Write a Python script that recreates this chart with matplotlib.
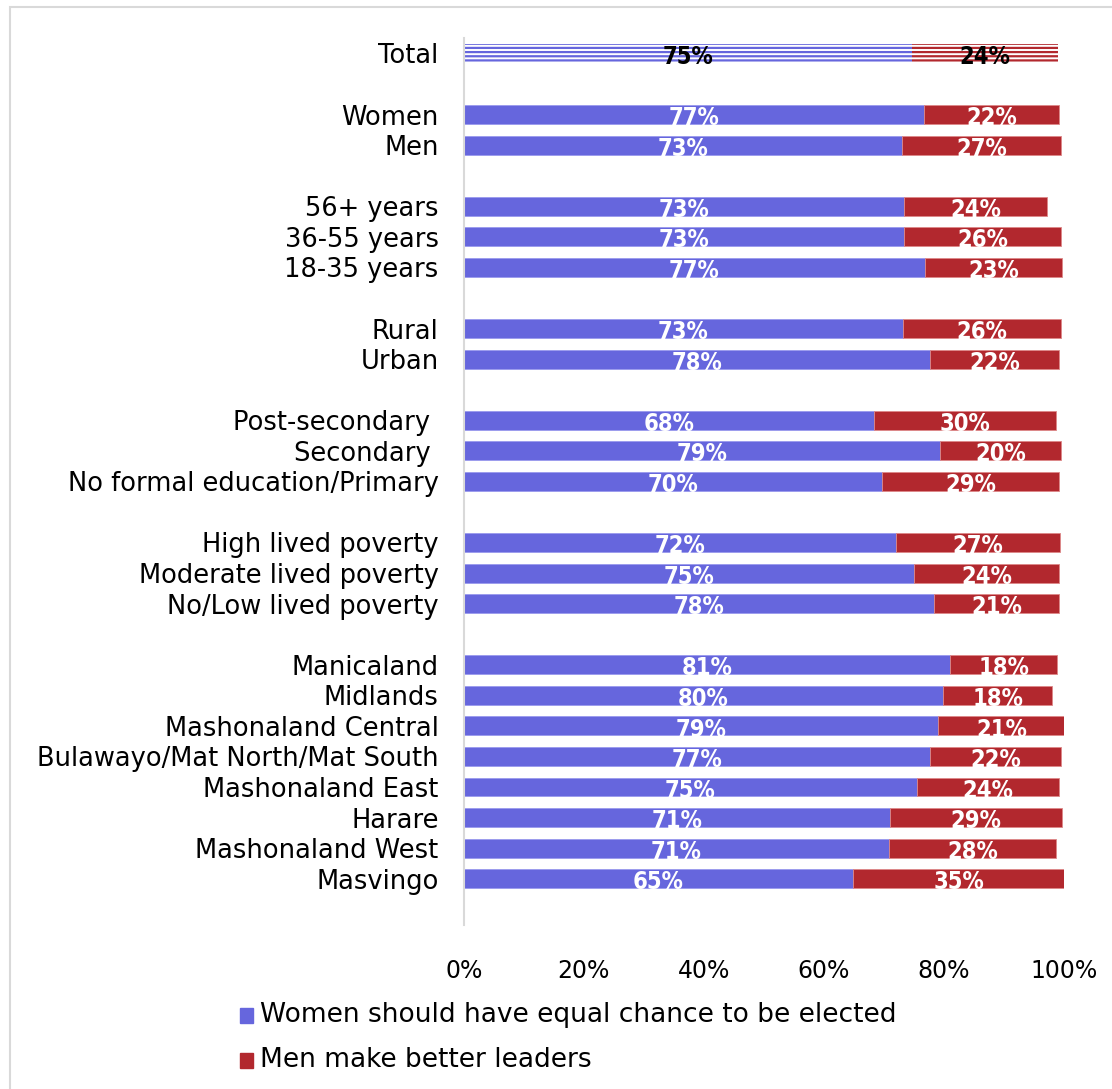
import numpy as np
import matplotlib.pyplot as plt
from matplotlib.patches import Rectangle

# Categories (top to bottom); None marks an empty spacer row between groups
categories = ['Total', None,
              'Women', 'Men', None,
              '56+ years', '36-55 years', '18-35 years', None,
              'Rural', 'Urban', None,
              'Post-secondary ', 'Secondary ', 'No formal education/Primary', None,
              'High lived poverty', 'Moderate lived poverty', 'No/Low lived poverty', None,
              'Manicaland', 'Midlands', 'Mashonaland Central', 'Bulawayo/Mat North/Mat South',
              'Mashonaland East', 'Harare', 'Mashonaland West', 'Masvingo']

# Series values (percent), same order as the non-empty categories
equal_chance = [74.7, 76.7, 73.0, 73.3, 73.3, 76.8, 73.2, 77.7, 68.3, 79.3, 69.7,
                72.0, 75.0, 78.3, 81.0, 79.8, 79.0, 77.7, 75.5, 71.0, 70.8, 64.8]
men_better = [24.3, 22.4, 26.5, 23.8, 26.2, 22.8, 26.2, 21.5, 30.3, 20.2, 29.5,
              27.3, 24.2, 20.8, 17.8, 18.2, 21.2, 21.8, 23.7, 28.7, 27.8, 35.2]
equal_labels = [75, 77, 73, 73, 73, 77, 73, 78, 68, 79, 70, 72, 75, 78, 81, 80, 79, 77, 75, 71, 71, 65]
men_labels = [24, 22, 27, 24, 26, 23, 26, 22, 30, 20, 29, 27, 24, 21, 18, 18, 21, 22, 24, 29, 28, 35]

series_names = ['Women should have equal chance to be elected', 'Men make better leaders']
blue = '#6666DD'
red = '#B2282E'

plt.rcParams['font.family'] = ['DejaVu Sans']
plt.rcParams['hatch.linewidth'] = 1.6

fig = plt.figure(figsize=(11.12, 10.89), dpi=100)
ax = fig.add_axes([0.417, 0.151, 0.54, 0.814])

rows = [i for i, c in enumerate(categories) if c is not None]
names = [c for c in categories if c is not None]
h = 0.62

for k, (y, a, b, la, lb) in enumerate(zip(rows, equal_chance, men_better, equal_labels, men_labels)):
    if k == 0:
        # Total bar drawn with horizontal line pattern
        ax.barh(y, a, height=h, color='white', edgecolor=blue, hatch='----', linewidth=0)
        ax.barh(y, b, left=a, height=h, color='white', edgecolor=red, hatch='----', linewidth=0)
        tc = 'black'
    else:
        ax.barh(y, a, height=h, color=blue, edgecolor='#9999EE', linewidth=0.6)
        ax.barh(y, b, left=a, height=h, color=red, edgecolor='#DD8888', linewidth=0.6)
        tc = 'white'
    ax.text(a / 2, y + 0.12, f'{la}%', ha='center', va='center', color=tc,
            fontsize=17, fontweight='bold', fontstretch='condensed')
    ax.text(a + b / 2, y + 0.12, f'{lb}%', ha='center', va='center', color=tc,
            fontsize=17, fontweight='bold', fontstretch='condensed')

ax.set_yticks(rows)
ax.set_yticklabels(names, fontsize=18.5)
ax.set_ylim(28.5, -0.5)
ax.set_xlim(0, 100)
ax.set_xticks(np.arange(0, 101, 20))
ax.set_xticklabels([f'{v}%' for v in range(0, 101, 20)], fontsize=17)
ax.tick_params(axis='both', length=0)
ax.tick_params(axis='x', pad=25)
ax.tick_params(axis='y', pad=18)
for s in ['top', 'right', 'bottom']:
    ax.spines[s].set_visible(False)
ax.spines['left'].set_color('#D9D9D9')
ax.spines['left'].set_linewidth(1.5)

# Legend, stacked vertically below the chart
for i, (nm, col) in enumerate(zip(series_names, [blue, red])):
    yy = 1 - (1015 + 45 * i) / 1089
    fig.patches.append(Rectangle((240 / 1112, yy - 0.007), 0.0115, 0.013,
                                 transform=fig.transFigure, color=col))
    fig.text(260 / 1112, yy, nm, fontsize=19, va='center', ha='left')

# Light gray border around the chart area
fig.patches.append(Rectangle((10 / 1112, -0.01), 1.1, 1 - 7 / 1089 + 0.01,
                             transform=fig.transFigure, fill=False,
                             edgecolor='#D9D9D9', linewidth=1.5))

fig.savefig('out.png', dpi=100)
